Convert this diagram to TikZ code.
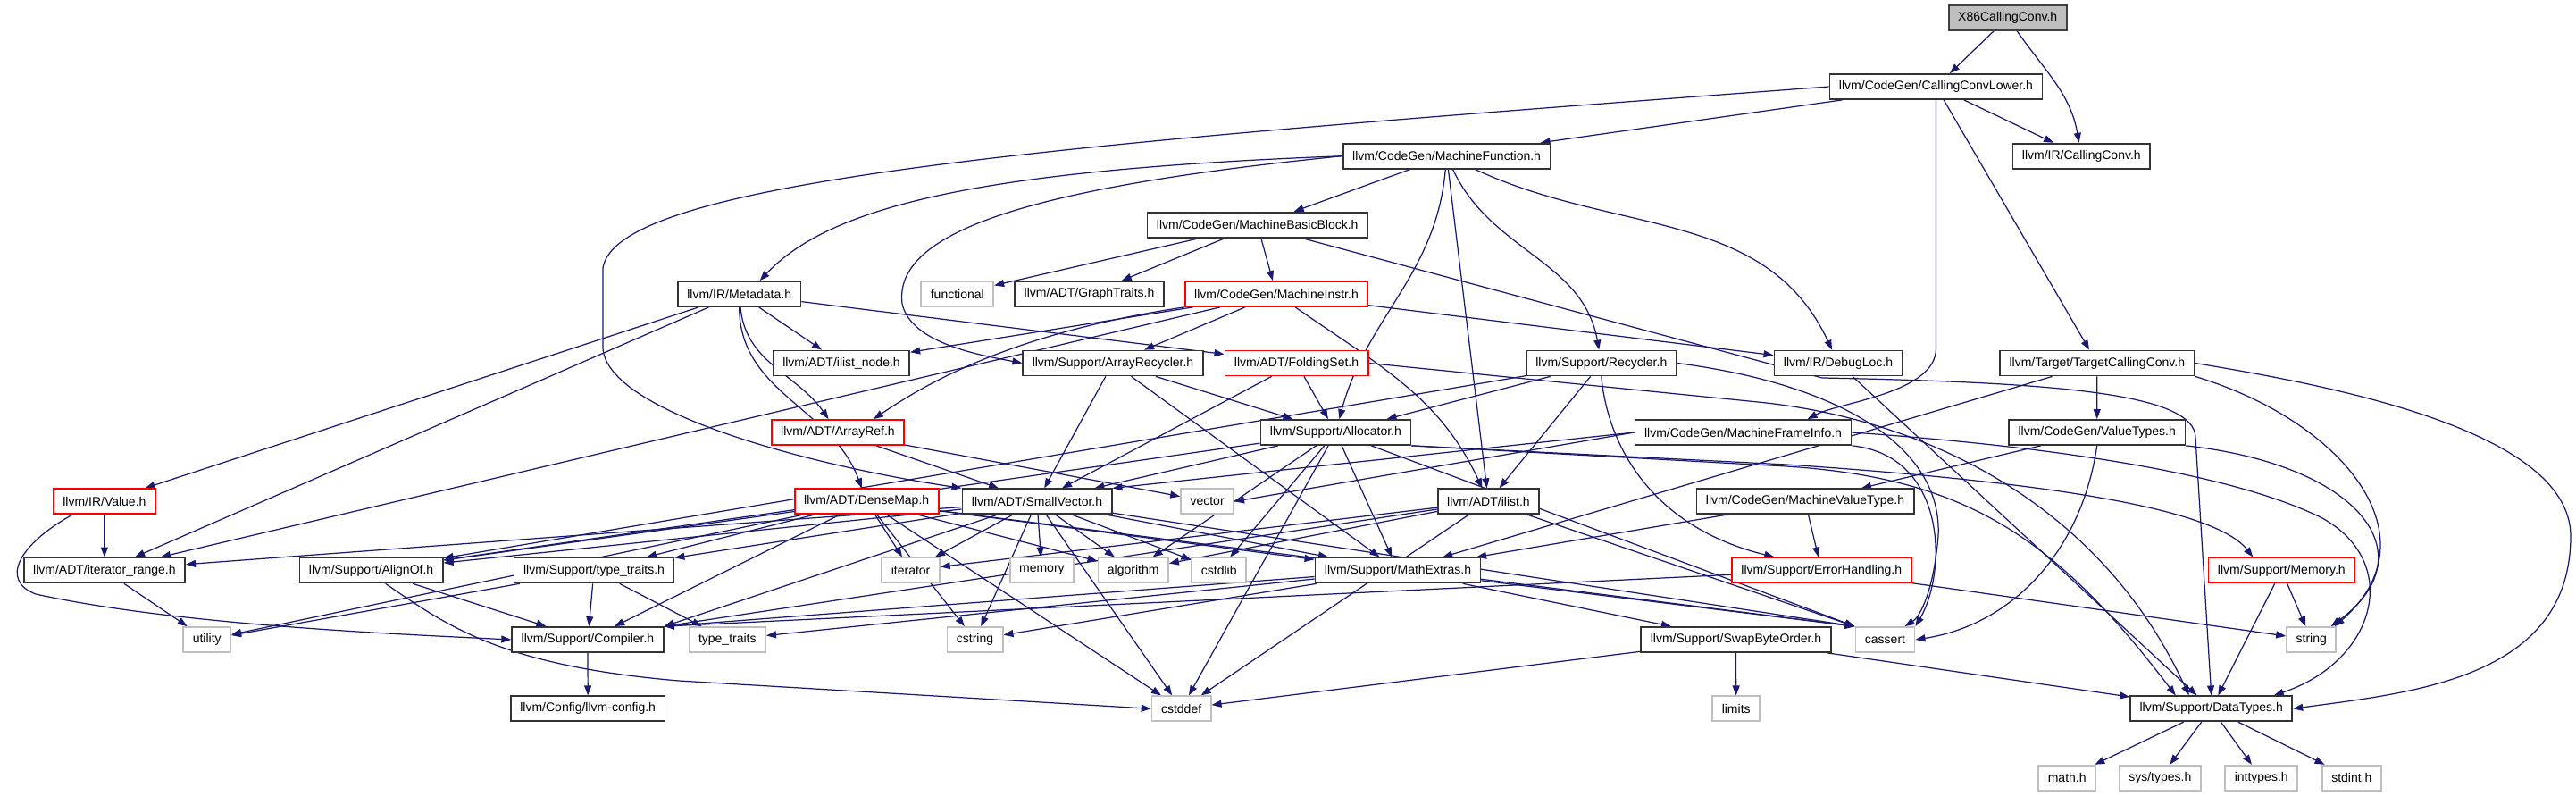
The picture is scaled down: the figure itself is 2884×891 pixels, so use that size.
\documentclass[tikz,border=0pt]{standalone}
\usepackage{fontspec}
\setmainfont{Liberation Sans}
\usetikzlibrary{arrows.meta, calc, positioning}
\definecolor{edgeblue}{HTML}{191970}
\pgfdeclarelayer{bg}
\pgfsetlayers{bg,main}

\begin{document}
\begin{tikzpicture}[x=0.01cm, y=-0.01cm, >={Triangle[length=0.11cm, width=0.08cm]},
    every node/.style={font=\fontsize{3.98pt}{4.8pt}\selectfont, inner xsep=0.105cm, inner ysep=0pt, minimum height=0.28cm, fill=white},
    hdr/.style={draw=black!80, line width=0.5pt},
    sys/.style={draw=black!25, line width=0.5pt},
    trunc/.style={draw=red, line width=0.5pt},
    rootbox/.style={draw=black!75, fill=black!25, line width=0.5pt},
    dep/.style={->, draw=edgeblue, line width=0.35pt}]
    \useasboundingbox (0,0) rectangle (2884,891);

    % headers, row by row
    \node[rootbox] (root) at (2247.7,19.8) {X86CallingConv.h};
    \node[hdr] (cclower) at (2167.5,97) {llvm/CodeGen/CallingConvLower.h};
    \node[hdr] (mf) at (1619.6,174.7) {llvm/CodeGen/MachineFunction.h};
    \node[hdr] (irconv) at (2330.3,174.7) {llvm/IR/CallingConv.h};
    \node[hdr] (mbb) at (1407.7,251.7) {llvm/CodeGen/MachineBasicBlock.h};
    \node[hdr] (meta) at (827.7,329) {llvm/IR/Metadata.h};
    \node[sys] (functional) at (1071.8,329) {functional};
    \node[hdr] (graphtraits) at (1219.5,329) {llvm/ADT/GraphTraits.h};
    \node[trunc] (minstr) at (1429,329) {llvm/CodeGen/MachineInstr.h};
    \node[hdr] (ilistnode) at (942,406.5) {llvm/ADT/ilist\_node.h};
    \node[hdr] (arecycler) at (1246,406.5) {llvm/Support/ArrayRecycler.h};
    \node[trunc] (folding) at (1451.5,406.5) {llvm/ADT/FoldingSet.h};
    \node[hdr] (recycler) at (1792.8,406.5) {llvm/Support/Recycler.h};
    \node[hdr] (debugloc) at (2058,406.5) {llvm/IR/DebugLoc.h};
    \node[hdr] (tcc) at (2347.8,406.5) {llvm/Target/TargetCallingConv.h};
    \node[trunc] (arrayref) at (938,484) {llvm/ADT/ArrayRef.h};
    \node[hdr] (allocator) at (1495.4,484) {llvm/Support/Allocator.h};
    \node[hdr] (mfi) at (1951.5,484) {llvm/CodeGen/MachineFrameInfo.h};
    \node[hdr] (valuetypes) at (2347.7,484) {llvm/CodeGen/ValueTypes.h};
    \node[trunc] (value) at (116.9,561.3) {llvm/IR/Value.h};
    \node[trunc] (densemap) at (970.2,561.3) {llvm/ADT/DenseMap.h};
    \node[hdr] (smallvec) at (1161,561.3) {llvm/ADT/SmallVector.h};
    \node[sys] (vector) at (1351.6,561.3) {vector};
    \node[hdr] (ilist) at (1666.4,561.3) {llvm/ADT/ilist.h};
    \node[hdr] (mvt) at (2021,561.3) {llvm/CodeGen/MachineValueType.h};
    \node[hdr] (itrange) at (116.9,638.4) {llvm/ADT/iterator\_range.h};
    \node[hdr] (alignof) at (415.6,638.4) {llvm/Support/AlignOf.h};
    \node[hdr] (typetraits) at (665,638.4) {llvm/Support/type\_traits.h};
    \node[sys] (iterator) at (1019.6,638.4) {iterator};
    \node[sys] (memoryh) at (1166.4,638.4) {memory};
    \node[sys] (algorithm) at (1268.7,638.4) {algorithm};
    \node[sys] (cstdlib) at (1364.7,638.4) {cstdlib};
    \node[hdr] (mathext) at (1565,638.4) {llvm/Support/MathExtras.h};
    \node[trunc] (errhand) at (2039.3,638.4) {llvm/Support/ErrorHandling.h};
    \node[trunc] (memory) at (2554.3,638.4) {llvm/Support/Memory.h};
    \node[sys] (utility) at (231.7,716) {utility};
    \node[hdr] (compiler) at (658,716) {llvm/Support/Compiler.h};
    \node[sys] (stdtt) at (814.3,716) {type\_traits};
    \node[sys] (cstring) at (1091.5,716) {cstring};
    \node[hdr] (swap) at (1943.5,716) {llvm/Support/SwapByteOrder.h};
    \node[sys] (cassert) at (2110.5,716) {cassert};
    \node[sys] (string) at (2587.7,716) {string};
    \node[hdr] (llvmconfig) at (658.2,793.3) {llvm/Config/llvm-config.h};
    \node[sys] (cstddef) at (1322.6,793.3) {cstddef};
    \node[sys] (limits) at (1943.7,793.3) {limits};
    \node[hdr] (datatypes) at (2475.7,793.3) {llvm/Support/DataTypes.h};
    \node[sys] (mathh) at (2314.2,870.7) {math.h};
    \node[sys] (systypes) at (2418.3,870.7) {sys/types.h};
    \node[sys] (inttypes) at (2531.7,870.7) {inttypes.h};
    \node[sys] (stdint) at (2632.8,870.7) {stdint.h};

    \begin{pgfonlayer}{bg}
    \foreach \a/\b in {root/cclower, cclower/mf, cclower/irconv, cclower/tcc,
        mf/mbb, mf/ilist, mbb/functional, mbb/graphtraits, mbb/minstr,
        meta/ilistnode, meta/folding, meta/value, meta/itrange,
        minstr/ilistnode, minstr/arecycler, minstr/debugloc, minstr/itrange,
        arecycler/smallvec, arecycler/allocator, arecycler/mathext,
        folding/smallvec, folding/allocator,
        recycler/ilist, recycler/allocator, recycler/alignof,
        debugloc/datatypes, tcc/valuetypes, tcc/mathext,
        arrayref/smallvec, arrayref/vector,
        allocator/smallvec, allocator/alignof, allocator/mathext,
        allocator/algorithm, allocator/cassert.north west, allocator/cstddef, allocator/cstdlib,
        mfi.west/smallvec.north east, mfi.west/vector.east,
        valuetypes/mvt, value/itrange,
        densemap/alignof, densemap/compiler, densemap/mathext, densemap/typetraits, densemap/algorithm,
        densemap/cassert.north west, densemap/cstddef, densemap/cstring, densemap/iterator, densemap/utility,
        smallvec/alignof, smallvec/compiler.north east, smallvec/mathext, smallvec/typetraits, smallvec/algorithm,
        smallvec/cassert.north west, smallvec/cstddef, smallvec/cstdlib, smallvec/cstring, smallvec/iterator,
        smallvec/memoryh, smallvec/itrange,
        ilist/compiler.north east, ilist/algorithm, ilist/cassert.north west, ilist/cstddef, ilist/iterator,
        mvt/errhand, mvt/mathext, memory/datatypes, memory/string, itrange/utility,
        alignof/compiler, typetraits/utility, typetraits/stdtt, typetraits/compiler,
        mathext/swap, mathext/cassert.north west, mathext/compiler.north east, mathext/cstring, mathext/stdtt,
        errhand/compiler.north east, errhand/string, compiler/llvmconfig,
        swap/limits, swap/datatypes, swap/cstddef,
        datatypes/mathh, datatypes/systypes, datatypes/inttypes, datatypes/stdint}
        \draw[dep] (\a) -- (\b);

    \foreach \a/\b/\o/\i in {root/irconv/-55/100, mf/allocator/-95/75, mf/recycler/-65/100,
        mf/debugloc/-25/115, meta/arrayref/-85/125, meta/densemap/-90/110, minstr/ilist/-35/115}
        \draw[dep] (\a) to[out=\o, in=\i] (\b);

    % the long detours
    \draw[dep] (mf.west) .. controls (1100,190) and (930,230) .. ($(meta.north)+(23,0)$);
    \draw[dep] (mf.west) .. controls (1150,210) and (1000,260) .. (1010,340) .. controls (1020,385) and (1100,398) .. (arecycler.west);
    \draw[dep] (cclower.west) .. controls (1200,160) and (690,200) .. (675,300) -- (675,390) .. controls (680,460) and (900,520) .. (smallvec.north west);
    \draw[dep] (cclower.south) -- (2167.5,390) .. controls (2167.5,440) and (2060,450) .. ($(mfi.north)+(72,0)$);
    \draw[dep] ($(mbb.south)+(50,0)$) -- (2040,423) .. controls (2300,428) and (2458,440) .. (2458,490) -- (datatypes.north);
    \draw[dep] (folding.east) -- (1968,450) .. controls (2150,468) and (2350,560) .. ($(datatypes.north)+(-25,0)$);
    \draw[dep] (minstr.south west) .. controls (1150,370) and (1050,420) .. ($(arrayref.north)+(40,0)$);
    \draw[dep] (recycler.south) .. controls (1800,500) and (1850,590) .. ($(errhand.north)+(-53,0)$);
    \draw[dep] (recycler.east) .. controls (2060,430) and (2175,500) .. (2170,600) .. controls (2165,660) and (2150,690) .. ($(cassert.north)+(22,0)$);
    \draw[dep] (allocator.south east) -- (2000,520) .. controls (2300,540) and (2480,570) .. ($(memory.north)+(-32,0)$);
    \draw[dep] (allocator.south east) -- (2000,522) .. controls (2200,535) and (2300,600) .. ($(datatypes.north)+(-40,0)$);
    \draw[dep] (mfi.south east) .. controls (2180,510) and (2180,640) .. (cassert.north east);
    \draw[dep] (mfi.east) .. controls (2300,500) and (2500,530) .. (2600,580) .. controls (2690,630) and (2660,740) .. ($(datatypes.north)+(70,0)$);
    \draw[dep] (valuetypes.south) .. controls (2330,620) and (2250,700) .. (cassert.east);
    \draw[dep] (valuetypes.south east) .. controls (2640,520) and (2720,620) .. ($(string.north)+(22,0)$);
    \draw[dep] (tcc.south east) .. controls (2620,470) and (2730,600) .. ($(string.north)+(26,0)$);
    \draw[dep] (tcc.east) .. controls (2600,430) and (2878,480) .. (2878,600) .. controls (2878,760) and (2700,775) .. (datatypes.east);
    \draw[dep] ($(alignof.south)+(16,0)$) .. controls (500,700) and (560,745) .. (760,762) -- (cstddef.west);
    \draw[dep] ($(value.south)+(-36,0)$) .. controls (20,610) and (0,650) .. (40,665) .. controls (200,700) and (450,710) .. (compiler.west);
    \end{pgfonlayer}
\end{tikzpicture}
\end{document}
